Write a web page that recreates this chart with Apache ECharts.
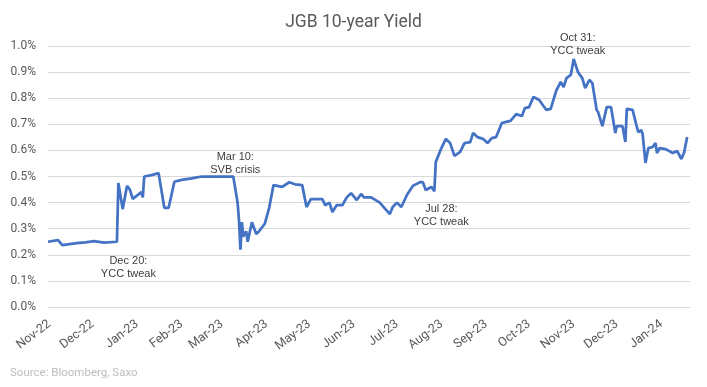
<!DOCTYPE html>
<html><head><meta charset="utf-8">
<script src="https://cdn.jsdelivr.net/npm/echarts@6/dist/echarts.min.js"></script>
<style>html,body{margin:0;padding:0;background:#fff}#c{width:707px;height:387px}</style>
</head><body><div id="c"></div>
<script>
const dates = ['2022-11-01','2022-11-08','2022-11-11','2022-11-21','2022-11-27','2022-12-03','2022-12-10','2022-12-19','2022-12-20','2022-12-23','2022-12-26','2022-12-28','2022-12-30','2023-01-05','2023-01-06','2023-01-07','2023-01-12','2023-01-17','2023-01-21','2023-01-24','2023-01-28','2023-02-02','2023-02-09','2023-02-16','2023-02-21','2023-02-28','2023-03-10','2023-03-13','2023-03-14','2023-03-15','2023-03-16','2023-03-17','2023-03-19','2023-03-20','2023-03-23','2023-03-26','2023-03-28','2023-04-01','2023-04-04','2023-04-07','2023-04-13','2023-04-18','2023-04-22','2023-04-27','2023-04-30','2023-05-03','2023-05-11','2023-05-13','2023-05-16','2023-05-18','2023-05-21','2023-05-25','2023-05-28','2023-05-31','2023-06-04','2023-06-07','2023-06-09','2023-06-14','2023-06-20','2023-06-27','2023-06-29','2023-07-02','2023-07-05','2023-07-09','2023-07-13','2023-07-18','2023-07-20','2023-07-22','2023-07-26','2023-07-28','2023-07-29','2023-08-02','2023-08-05','2023-08-08','2023-08-11','2023-08-15','2023-08-18','2023-08-22','2023-08-24','2023-08-27','2023-08-31','2023-09-03','2023-09-06','2023-09-09','2023-09-13','2023-09-16','2023-09-19','2023-09-23','2023-09-27','2023-09-29','2023-10-02','2023-10-05','2023-10-09','2023-10-14','2023-10-17','2023-10-21','2023-10-24','2023-10-26','2023-10-28','2023-10-31','2023-11-02','2023-11-05','2023-11-08','2023-11-10','2023-11-13','2023-11-15','2023-11-18','2023-11-19','2023-11-22','2023-11-25','2023-11-28','2023-12-01','2023-12-02','2023-12-06','2023-12-08','2023-12-09','2023-12-13','2023-12-16','2023-12-17','2023-12-19','2023-12-20','2023-12-22','2023-12-24','2023-12-27','2023-12-29','2023-12-30','2024-01-01','2024-01-05','2024-01-10','2024-01-13','2024-01-16','2024-01-18','2024-01-20'];
const yields = [0.25,0.256,0.237,0.245,0.248,0.252,0.247,0.25,0.475,0.375,0.464,0.45,0.414,0.44,0.42,0.50,0.505,0.513,0.38,0.38,0.48,0.487,0.493,0.50,0.50,0.50,0.50,0.40,0.33,0.22,0.325,0.27,0.29,0.25,0.325,0.28,0.29,0.32,0.38,0.467,0.46,0.478,0.47,0.467,0.383,0.413,0.413,0.39,0.40,0.364,0.39,0.39,0.42,0.436,0.41,0.433,0.42,0.42,0.40,0.356,0.383,0.40,0.383,0.43,0.464,0.478,0.478,0.448,0.46,0.444,0.556,0.61,0.644,0.628,0.579,0.594,0.628,0.632,0.667,0.651,0.644,0.628,0.647,0.651,0.705,0.709,0.713,0.739,0.732,0.762,0.766,0.805,0.793,0.755,0.759,0.831,0.862,0.843,0.877,0.889,0.950,0.90,0.877,0.839,0.870,0.858,0.755,0.747,0.693,0.766,0.766,0.667,0.693,0.693,0.632,0.759,0.755,0.69,0.67,0.678,0.663,0.552,0.609,0.613,0.628,0.59,0.609,0.605,0.59,0.598,0.567,0.594,0.651];
const monthStarts = ['2022-11-01','2022-12-01','2023-01-01','2023-02-01','2023-03-01','2023-04-01','2023-05-01','2023-06-01','2023-07-01','2023-08-01','2023-09-01','2023-10-01','2023-11-01','2023-12-01','2024-01-01'];
const monthLabels = ['Nov-22','Dec-22','Jan-23','Feb-23','Mar-23','Apr-23','May-23','Jun-23','Jul-23','Aug-23','Sep-23','Oct-23','Nov-23','Dec-23','Jan-24'];
const annotationTexts = ['Dec 20:\nYCC tweak','Mar 10:\nSVB crisis','Jul 28:\nYCC tweak','Oct 31:\nYCC tweak'];
const annotationDates = ['2022-12-20','2023-03-10','2023-07-28','2023-10-31'];

function ts(s){const p=s.split('-').map(Number);return Date.UTC(p[0],p[1]-1,p[2]);}
const tickTs = monthStarts.map(ts);
const annY = [0.151, 0.55, 0.352, 1.0];
const annOff = [[10,0],[2,0],[7,0],[7,-2]];

const chart = echarts.init(document.getElementById('c'), null, {renderer:'canvas'});
chart.setOption({
  animation:false,
  backgroundColor:'#fff',
  title:{text:'JGB 10-year Yield',left:'center',top:9,textStyle:{fontFamily:'Roboto',fontSize:17.5,fontWeight:'normal',color:'#595959'}},
  graphic:[{type:'text',left:10,top:367,style:{text:'Source: Bloomberg, Saxo',fontFamily:'Roboto',fontSize:11.5,fill:'#bdbdbd'}}],
  grid:{left:48,right:17,top:46,bottom:80},
  xAxis:{
    type:'value',min:ts('2022-11-01'),max:ts('2024-01-22'),
    axisLine:{show:true,lineStyle:{color:'#d9d9d9'}},
    axisTick:{show:false},
    splitLine:{show:false},
    axisLabel:{customValues:tickTs,rotate:37,margin:17,padding:[0,-2,0,0],fontFamily:'Roboto',fontSize:12.5,color:'#595959',
      formatter:function(v){const i=tickTs.indexOf(v);return i>=0?monthLabels[i]:'';}}
  },
  yAxis:{
    type:'value',min:0,max:1.0,interval:0.1,
    axisLine:{show:false},axisTick:{show:false},
    splitLine:{lineStyle:{color:'#d9d9d9',width:1}},
    axisLabel:{margin:12,fontFamily:'Roboto',fontSize:12,color:'#595959',formatter:function(v){return v.toFixed(1)+'%';}}
  },
  series:[{
    type:'line',
    data:dates.map((d,i)=>[ts(d),yields[i]]),
    showSymbol:false,symbol:'none',
    lineStyle:{color:'#4472C4',width:2.75},
    itemStyle:{color:'#4472C4'},
    markPoint:{
      symbol:'circle',symbolSize:0,silent:true,
      label:{show:true,position:'inside',fontFamily:'Liberation Sans',fontSize:11,lineHeight:13,color:'#404040',align:'center'},
      data:annotationTexts.map((t,i)=>({coord:[ts(annotationDates[i]),annY[i]],label:{formatter:t,offset:annOff[i]}}))
    }
  }]
});
</script></body></html>
